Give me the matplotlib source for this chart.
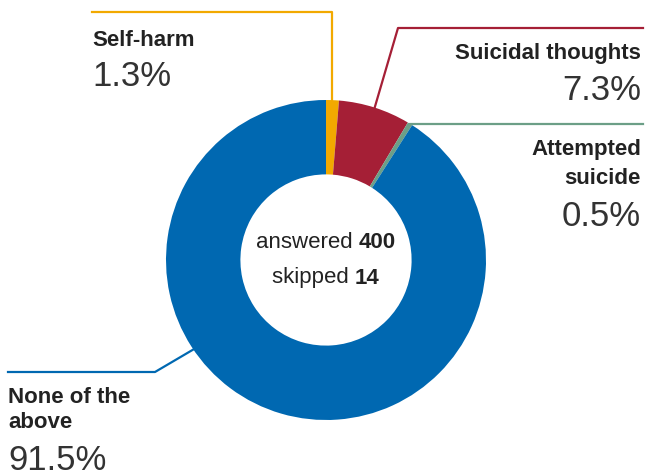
import numpy as np
import matplotlib.pyplot as plt

plt.rcParams['font.family'] = ['Liberation Sans', 'DejaVu Sans']

# data
labels = ['Self-harm', 'Suicidal thoughts', 'Attempted\nsuicide', 'None of the\nabove']
values = [1.3, 7.3, 0.5, 91.5]
colors = ['#F2A900', '#A51F36', '#6C9F87', '#0068B1']
answered = 400
skipped = 14

W, H = 646, 476
fig = plt.figure(figsize=(W / 100, H / 100), dpi=100)
ax = fig.add_axes([0, 0, 1, 1])

cx, cy, R = 326, H - 260, 160
ax.pie(values, colors=colors, startangle=90, counterclock=False,
       center=(cx, cy), radius=R, frame=True,
       wedgeprops=dict(width=R * 0.465, linewidth=0))
ax.set_xlim(0, W)
ax.set_ylim(0, H)
ax.set_aspect('equal')
ax.axis('off')

# angle (clockwise from top) where each leader line touches the ring
tot = sum(values)
cum = np.cumsum([0] + values[:-1]) / tot * 360
mid = cum + np.array(values) / tot * 180
mid[3] = 236  # "none" leader is placed on the left side


def edge(a):
    r = np.radians(a)
    return cx + R * np.sin(r), cy + R * np.cos(r)


lw = 1.6
dark = '#222222'
pct = '#333333'
fs_lab, fs_pct = 16, 25

# Self-harm
x0, y0 = edge(mid[0])
ax.plot([x0, x0, 92], [y0, H - 12, H - 12], color=colors[0], lw=lw)
ax.text(92, H - 40, labels[0], fontsize=fs_lab, fontweight='bold', color=dark, va='center', ha='left')
ax.text(92, H - 76, f'{values[0]}%', fontsize=fs_pct, color=pct, va='center', ha='left')

# Suicidal thoughts
x0, y0 = edge(mid[1])
ax.plot([x0, 398, 643], [y0, H - 28, H - 28], color=colors[1], lw=lw)
ax.text(641, H - 53, labels[1], fontsize=fs_lab, fontweight='bold', color=dark, va='center', ha='right')
ax.text(641, H - 90, f'{values[1]}%', fontsize=fs_pct, color=pct, va='center', ha='right')

# Attempted suicide
x0, y0 = edge(mid[2])
ax.plot([x0, 643], [y0, y0], color=colors[2], lw=lw)
ax.text(641, H - 164, labels[2], fontsize=fs_lab, fontweight='bold', color=dark, va='center', ha='right',
        linespacing=1.55)
ax.text(641, H - 216, f'{values[2]}%', fontsize=fs_pct, color=pct, va='center', ha='right')

# None of the above
x0, y0 = edge(mid[3])
ax.plot([x0, 155, 8], [y0, H - 372, H - 372], color=colors[3], lw=lw)
ax.text(8, H - 410, labels[3], fontsize=fs_lab, fontweight='bold', color=dark, va='center', ha='left',
        linespacing=1.3)
ax.text(8, H - 461, f'{values[3]}%', fontsize=fs_pct, color=pct, va='center', ha='left')

# centre text, two fonts on one line, centred as a whole
fig.canvas.draw()
rend = fig.canvas.get_renderer()
for y, word, num in [(H - 243, 'answered ', answered), (H - 278, 'skipped ', skipped)]:
    t1 = ax.text(0, y, word, fontsize=16, color=dark, ha='left', va='center')
    t2 = ax.text(0, y, f'{num}', fontsize=16, color=dark, fontweight='bold', ha='left', va='center')
    w1 = t1.get_window_extent(rend).width
    w2 = t2.get_window_extent(rend).width
    x_start = cx - (w1 + w2) / 2
    t1.set_x(x_start)
    t2.set_x(x_start + w1)

fig.savefig('out.png', dpi=100)
